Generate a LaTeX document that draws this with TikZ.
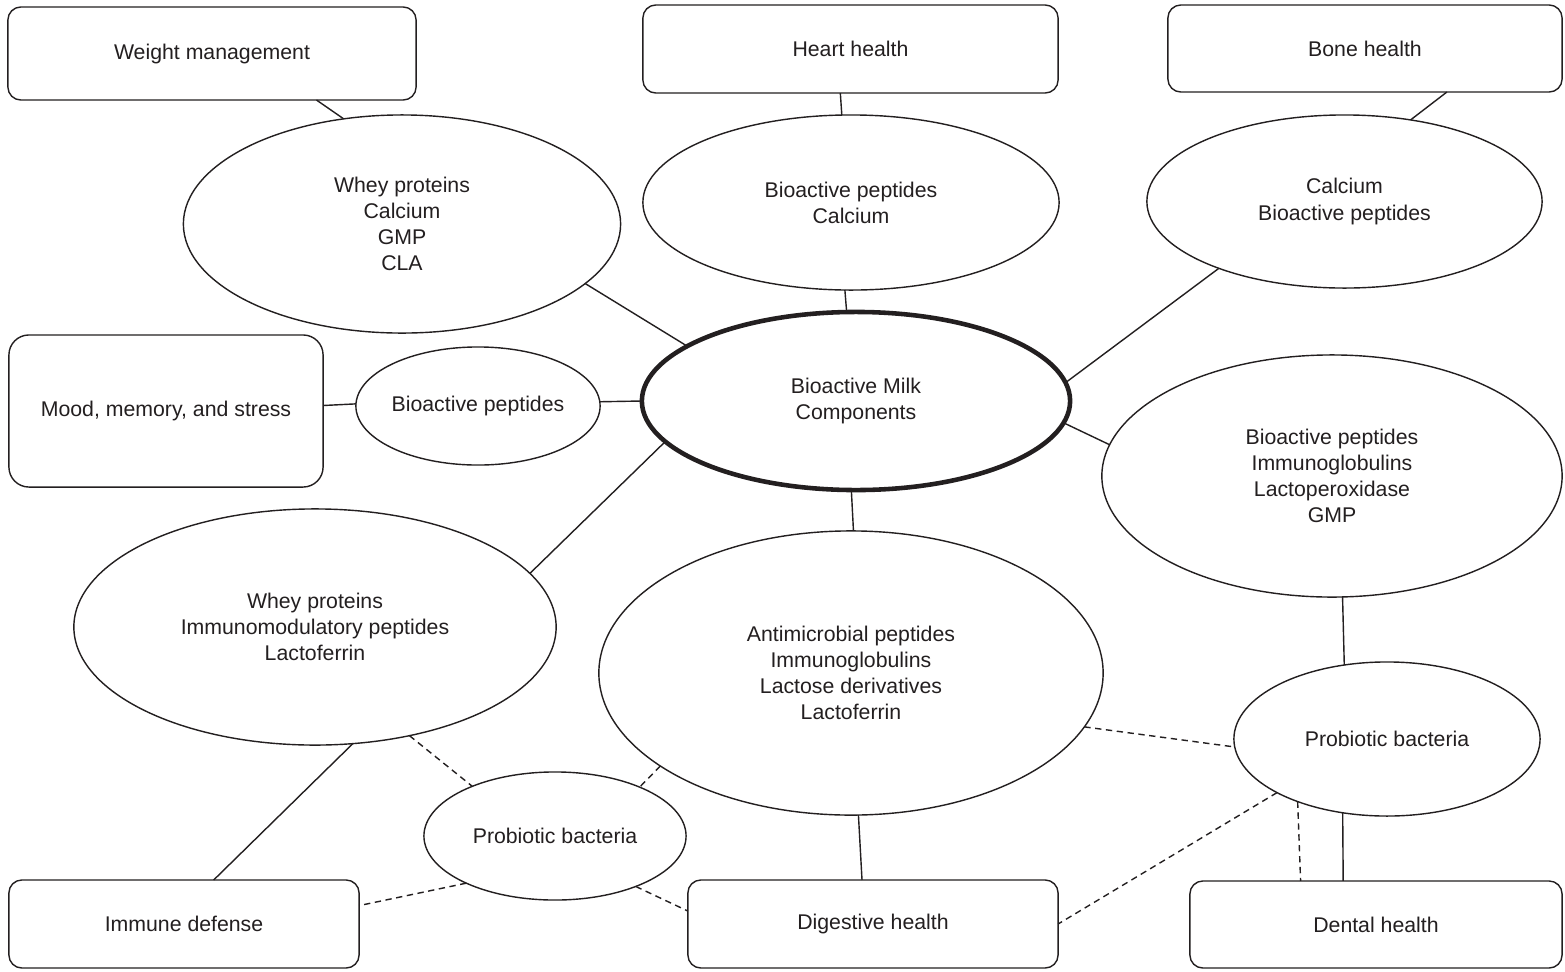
\documentclass[tikz,border=0pt]{standalone}
\usepackage{fontspec}
\setmainfont{Liberation Sans}
\usetikzlibrary{shapes.geometric}
\definecolor{ink}{HTML}{231F20}
\begin{document}
\begin{tikzpicture}[x=0.01cm,y=-0.01cm,
  every node/.style={inner sep=0pt, outer sep=0pt, align=center,
    font=\fontsize{6.05}{7.4}\selectfont, text=ink},
  box/.style={draw=ink, line width=0.4pt, rounded corners=0.13cm},
  ell/.style={draw=ink, ellipse, line width=0.4pt},
  link/.style={draw=ink, line width=0.4pt},
  dlink/.style={draw=ink, line width=0.4pt, dash pattern=on 1.8pt off 1.3pt}]
\useasboundingbox[fill=white] (0,0) rectangle (1565,972);

% boxes
\node[box, minimum width=4.08cm, minimum height=0.93cm] (weight) at (212,53.5) {Weight management};
\node[box, minimum width=4.15cm, minimum height=0.88cm] (heart) at (850.5,49) {Heart health};
\node[box, minimum width=3.94cm, minimum height=0.87cm] (bone) at (1365,48.5) {Bone health};
\node[box, rounded corners=0.2cm, minimum width=3.14cm, minimum height=1.52cm] (mood) at (166,411) {Mood, memory, and stress};
\node[box, minimum width=3.50cm, minimum height=0.88cm] (immune) at (184,924) {Immune defense};
\node[box, minimum width=3.70cm, minimum height=0.88cm] (digest) at (873,924) {Digestive health};
\node[box, minimum width=3.72cm, minimum height=0.87cm] (dental) at (1376,924.5) {Dental health};

% ellipses
\node[ell, minimum width=4.37cm, minimum height=2.18cm] (whey) at (402,224) {Whey proteins\\Calcium\\GMP\\CLA};
\node[ell, minimum width=4.16cm, minimum height=1.75cm] (heartE) at (851,202.5) {Bioactive peptides\\Calcium};
\node[ell, minimum width=3.95cm, minimum height=1.73cm] (boneE) at (1344.5,201.5) {Calcium\\Bioactive peptides};
\node[ell, minimum width=2.40cm, minimum height=1.18cm] (moodE) at (478,406) {Bioactive peptides};
\node[ell, line width=1.3pt, minimum width=4.28cm, minimum height=1.78cm] (central) at (856,401) {Bioactive Milk\\Components};
\node[ell, minimum width=4.60cm, minimum height=2.42cm] (rightE) at (1332,476) {Bioactive peptides\\Immunoglobulins\\Lactoperoxidase\\GMP};
\node[ell, minimum width=3.06cm, minimum height=1.54cm] (probR) at (1387,739) {Probiotic bacteria};
\node[ell, minimum width=5.04cm, minimum height=2.84cm] (lowC) at (851,673) {Antimicrobial peptides\\Immunoglobulins\\Lactose derivatives\\Lactoferrin};
\node[ell, minimum width=4.82cm, minimum height=2.36cm] (leftE) at (315,627) {Whey proteins\\Immunomodulatory peptides\\Lactoferrin};
\node[ell, minimum width=2.62cm, minimum height=1.28cm] (probL) at (555,836) {Probiotic bacteria};

% solid connectors
\draw[link] (weight.-24.1) -- (whey.119.5);
\draw[link] (whey.-18.2) -- (central.162.9);
\draw[link] (heart.257.8) -- (heartE.96.5);
\draw[link] (heartE.266.7) -- (central.96.3);
\draw[link] (bone.-28.8) -- (boneE.51.6);
\draw[link] (boneE.208.1) -- (central.5.7);
\draw[link] (mood.2.2) -- (moodE.179.5);
\draw[link] (moodE.2.9) -- (central.180);
\draw[link] (central.-6.8) -- (rightE.172.9);
\draw[link] (central.192.8) -- (leftE.14);
\draw[link] (central.267.5) -- (lowC.89.6);
\draw[link] (rightE.275.2) -- (probR.120.8);
\draw[link] (probR.239.2) -- (dental.127.2);
\draw[link] (lowC.273.6) -- (digest.104);
\draw[link] (leftE.288.6) -- (immune.56.6);

% dashed connectors
\draw[dlink] (probR.215.6) -- (dental.150.5);
\draw[dlink] (probR.206.8) -- (digest.0.6);
\draw[dlink] (lowC.-13.4) -- (probR.183.7);
\draw[dlink] (lowC.206.3) -- (probL.30.8);
\draw[dlink] (probL.328.2) -- (digest.176.3);
\draw[dlink] (probL.208.8) -- (immune.6.8);
\draw[dlink] (leftE.311) -- (probL.149);
\end{tikzpicture}
\end{document}
